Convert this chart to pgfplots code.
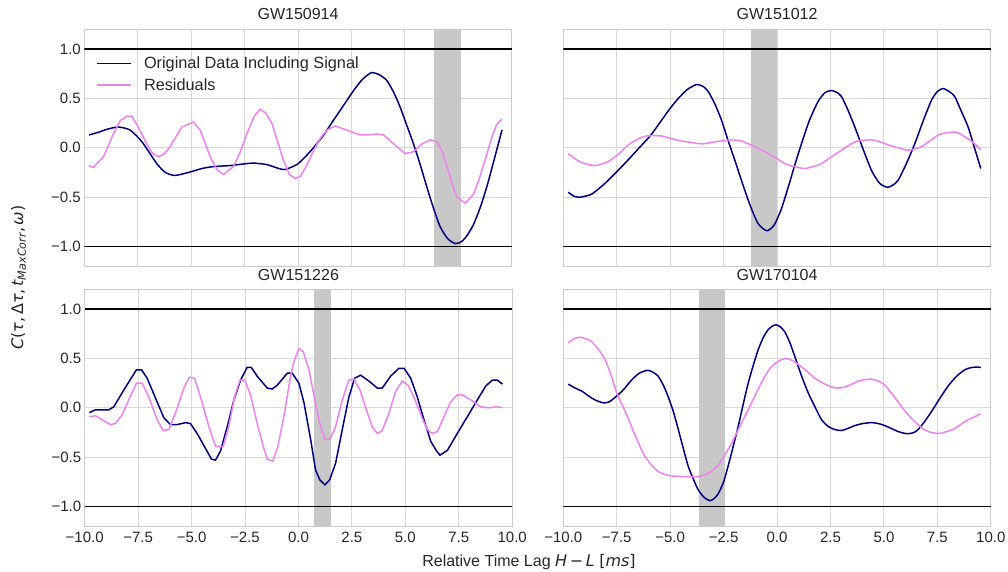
\documentclass[border=0pt]{standalone}
\usepackage{fontspec}
\setmainfont{Liberation Sans}
\newfontfamily\djv{DejaVu Sans}
\usepackage{pgfplots}
\pgfplotsset{compat=1.18}
\definecolor{navyc}{RGB}{0,0,128}
\definecolor{violetc}{RGB}{238,130,238}
\definecolor{spanc}{RGB}{200,200,200}
\definecolor{txt}{RGB}{38,38,38}
\pgfplotsset{
  panel/.style={
    scale only axis, width=427.5pt, height=237pt,
    xmin=-10, xmax=10, ymin=-1.2, ymax=1.2,
    xtick={-10,-7.5,-5,-2.5,0,2.5,5,7.5,10}, ytick={-1,-0.5,0,0.5,1},
    grid=major, grid style={draw=black!15, line width=0.9pt},
    axis line style={draw=black!20, line width=1pt},
    major tick length=0pt, tick style={draw=none},
    ticklabel style={font=\fontsize{15}{18}\selectfont, text=txt},
    title style={font=\fontsize{16}{19}\selectfont, text=txt, at={(0.5,1)}, anchor=base, yshift=3.3pt},
    xticklabel style={anchor=base, yshift=-15.8pt},
  },
  noxl/.style={xticklabels={}},
  xl/.style={xticklabels={−10.0,−7.5,−5.0,−2.5,0.0,2.5,5.0,7.5,10.0}},
  yl/.style={yticklabels={−1.0,−0.5,0.0,0.5,1.0}},
  noyl/.style={yticklabels={}},
  orig/.style={draw=navyc, line width=1.5pt},
  resid/.style={draw=violetc, line width=1.5pt},
  hl/.style={draw=black, line width=1.8pt},
  spanst/.style={fill=spanc, draw=none},
}
\begin{document}
\begin{tikzpicture}
\useasboundingbox (0pt,0pt) rectangle (1008pt,-572pt);
% ---------------- GW150914
\begin{axis}[panel, at={(84.3pt,-29.3pt)}, anchor=north west, title={GW150914}, noxl, yl,
  legend style={at={(0,1)}, anchor=north west, xshift=11.7pt, yshift=-25.4pt, draw=none, fill=none,
    inner sep=0pt, font=\fontsize{16.3}{19}\selectfont, text=txt, row sep=4.5pt, column sep=10pt},
  legend cell align=left]
\addplot[spanst, forget plot] coordinates {(6.35,-1.2) (6.35,1.2) (7.6,1.2) (7.6,-1.2)};
\addplot[hl, forget plot] coordinates {(-10,1) (10,1)};
\addplot[hl, forget plot] coordinates {(-10,-1) (10,-1)};
\addlegendimage{legend image code/.code={\draw[draw=navyc, line width=1.8pt] (0pt,0pt) -- (34pt,0pt);}}
\addlegendentry{Original Data Including Signal}
\addlegendimage{legend image code/.code={\draw[draw=violetc, line width=1.8pt] (0pt,0pt) -- (34pt,0pt);}}
\addlegendentry{Residuals}
\addplot[orig, smooth, tension=0.4, forget plot] coordinates {(-9.78,0.13) (-9.3,0.16) (-8.9,0.19) (-8.4,0.21) (-7.86,0.18) (-7.3,0.06) (-6.61,-0.16) (-6.2,-0.25) (-5.75,-0.28) (-5.05,-0.245) (-4.5,-0.21) (-3.96,-0.19) (-3.18,-0.18) (-2.6,-0.165) (-2.09,-0.155) (-1.46,-0.17) (-0.9,-0.21) (-0.6,-0.22) (-0.06,-0.17) (0.3,-0.1) (0.72,0.0) (1.2,0.13) (1.66,0.28) (2.1,0.42) (2.6,0.58) (3.0,0.69) (3.42,0.76) (3.8,0.74) (4.16,0.68) (4.5,0.55) (4.78,0.41) (5.1,0.22) (5.4,0.04) (5.7,-0.16) (6.03,-0.40) (6.35,-0.62) (6.65,-0.80) (7.0,-0.92) (7.36,-0.97) (7.65,-0.95) (7.9,-0.89) (8.2,-0.78) (8.53,-0.60) (8.85,-0.38) (9.15,-0.14) (9.54,0.18)};
\addplot[resid, forget plot] coordinates {(-9.78,-0.18) (-9.58,-0.2) (-9.1,-0.09) (-8.64,0.14) (-8.3,0.28) (-8.0,0.32) (-7.78,0.32) (-7.45,0.2) (-7.08,0.04) (-6.8,-0.06) (-6.53,-0.09) (-6.25,-0.06) (-5.99,0.01) (-5.44,0.21) (-4.9,0.26) (-4.58,0.18) (-4.35,0.05) (-4.11,-0.09) (-3.8,-0.22) (-3.49,-0.27) (-3.02,-0.19) (-2.7,-0.04) (-2.4,0.14) (-2.05,0.32) (-1.77,0.39) (-1.5,0.35) (-1.23,0.25) (-0.95,0.06) (-0.68,-0.13) (-0.4,-0.27) (-0.13,-0.31) (0.1,-0.29) (0.4,-0.18) (0.72,-0.03) (1.05,0.1) (1.35,0.18) (1.74,0.22) (2.28,0.18) (2.91,0.13) (3.3,0.13) (3.69,0.14) (4.0,0.13) (4.47,0.04) (5.02,-0.06) (5.4,-0.04) (5.8,0.04) (6.19,0.08) (6.5,0.06) (6.75,-0.04) (6.97,-0.19) (7.2,-0.36) (7.43,-0.5) (7.82,-0.56) (8.21,-0.47) (8.5,-0.3) (8.84,-0.06) (9.1,0.13) (9.3,0.24) (9.54,0.29)};
\end{axis}
% ---------------- GW151012
\begin{axis}[panel, at={(563.3pt,-29.3pt)}, anchor=north west, title={GW151012}, noxl, noyl]
\addplot[spanst, forget plot] coordinates {(-1.2,-1.2) (-1.2,1.2) (0.0,1.2) (0.0,-1.2)};
\addplot[hl, forget plot] coordinates {(-10,1) (10,1)};
\addplot[hl, forget plot] coordinates {(-10,-1) (10,-1)};
\addplot[orig, smooth, tension=0.4, forget plot] coordinates {(-9.77,-0.45) (-9.5,-0.49) (-9.22,-0.5) (-8.68,-0.47) (-8.1,-0.37) (-7.58,-0.26) (-7.0,-0.13) (-6.49,-0.01) (-5.9,0.13) (-5.4,0.28) (-5.0,0.40) (-4.62,0.5) (-4.2,0.59) (-3.77,0.64) (-3.45,0.62) (-3.22,0.57) (-2.9,0.44) (-2.6,0.28) (-2.3,0.08) (-1.97,-0.13) (-1.65,-0.34) (-1.35,-0.53) (-1.1,-0.67) (-0.88,-0.77) (-0.65,-0.82) (-0.45,-0.84) (-0.25,-0.81) (-0.1,-0.77) (0.2,-0.62) (0.52,-0.40) (0.85,-0.16) (1.14,0.04) (1.5,0.27) (1.92,0.47) (2.25,0.56) (2.55,0.58) (2.8,0.56) (3.01,0.52) (3.3,0.39) (3.64,0.21) (4.0,0.0) (4.42,-0.23) (4.8,-0.36) (5.16,-0.40) (5.4,-0.38) (5.66,-0.33) (6.05,-0.16) (6.44,0.04) (6.85,0.28) (7.22,0.48) (7.5,0.57) (7.77,0.60) (8.05,0.57) (8.31,0.52) (8.6,0.38) (8.94,0.21) (9.25,-0.01) (9.53,-0.21)};
\addplot[resid, smooth, tension=0.4, forget plot] coordinates {(-9.77,-0.06) (-9.45,-0.11) (-9.14,-0.15) (-8.52,-0.18) (-7.9,-0.14) (-7.4,-0.06) (-6.96,0.03) (-6.5,0.09) (-6.1,0.12) (-5.4,0.12) (-4.9,0.09) (-4.47,0.07) (-3.53,0.04) (-2.91,0.06) (-2.13,0.08) (-1.7,0.07) (-1.35,0.04) (-0.95,0.0) (-0.57,-0.04) (0.0,-0.11) (0.36,-0.16) (0.8,-0.19) (1.3,-0.21) (1.7,-0.19) (2.08,-0.16) (2.55,-0.09) (3.01,-0.025) (3.4,0.03) (3.79,0.07) (4.42,0.08) (4.8,0.06) (5.2,0.03) (5.66,0.0) (6.13,-0.025) (6.45,-0.01) (6.75,0.01) (7.15,0.07) (7.53,0.13) (7.9,0.15) (8.31,0.16) (8.65,0.13) (8.94,0.09) (9.25,0.04) (9.53,-0.02)};
\end{axis}
% ---------------- GW151226
\begin{axis}[panel, at={(84.7pt,-289.3pt)}, anchor=north west, title={GW151226}, xl, yl]
\addplot[spanst, forget plot] coordinates {(0.75,-1.2) (0.75,1.2) (1.5,1.2) (1.5,-1.2)};
\addplot[hl, forget plot] coordinates {(-10,1) (10,1)};
\addplot[hl, forget plot] coordinates {(-10,-1) (10,-1)};
\addplot[orig, forget plot] coordinates {(-9.78,-0.05) (-9.5,-0.02) (-8.87,-0.02) (-8.64,0.01) (-8.17,0.18) (-7.58,0.385) (-7.34,0.385) (-7.08,0.30) (-6.69,0.10) (-6.3,-0.10) (-5.99,-0.17) (-5.67,-0.17) (-5.28,-0.15) (-5.05,-0.16) (-4.74,-0.26) (-4.35,-0.41) (-4.07,-0.52) (-3.88,-0.53) (-3.65,-0.44) (-3.33,-0.19) (-3.02,0.08) (-2.71,0.28) (-2.4,0.41) (-2.21,0.41) (-1.93,0.32) (-1.46,0.20) (-1.23,0.19) (-0.99,0.23) (-0.52,0.35) (-0.29,0.35) (0.02,0.25) (0.26,0.05) (0.57,-0.32) (0.8,-0.63) (1.0,-0.73) (1.24,-0.78) (1.46,-0.73) (1.74,-0.56) (2.05,-0.22) (2.36,0.11) (2.63,0.30) (2.91,0.33) (3.3,0.27) (3.69,0.20) (3.92,0.20) (4.31,0.32) (4.7,0.40) (4.94,0.40) (5.25,0.30) (5.56,0.11) (5.87,-0.12) (6.19,-0.34) (6.47,-0.44) (6.62,-0.48) (6.97,-0.43) (7.43,-0.26) (7.9,-0.09) (8.37,0.08) (8.76,0.22) (9.07,0.28) (9.31,0.28) (9.54,0.24)};
\addplot[resid, forget plot] coordinates {(-9.78,-0.09) (-9.5,-0.08) (-9.19,-0.12) (-8.8,-0.17) (-8.56,-0.16) (-8.25,-0.07) (-7.94,0.08) (-7.58,0.25) (-7.31,0.25) (-7.0,0.11) (-6.61,-0.12) (-6.33,-0.23) (-6.06,-0.22) (-5.75,-0.05) (-5.36,0.20) (-5.1,0.31) (-4.86,0.30) (-4.58,0.11) (-4.19,-0.19) (-3.88,-0.39) (-3.52,-0.39) (-3.26,-0.19) (-2.99,0.11) (-2.74,0.28) (-2.51,0.28) (-2.24,0.13) (-1.93,-0.16) (-1.65,-0.39) (-1.46,-0.52) (-1.2,-0.54) (-0.96,-0.39) (-0.65,-0.05) (-0.37,0.32) (-0.21,0.47) (0.02,0.60) (0.22,0.57) (0.49,0.39) (0.72,0.13) (1.0,-0.16) (1.24,-0.32) (1.47,-0.32) (1.74,-0.19) (2.05,0.08) (2.36,0.28) (2.6,0.29) (2.88,0.18) (3.22,-0.05) (3.45,-0.19) (3.69,-0.26) (3.92,-0.23) (4.24,-0.05) (4.55,0.17) (4.86,0.27) (5.12,0.23) (5.4,0.11) (5.72,-0.07) (6.03,-0.22) (6.26,-0.26) (6.5,-0.24) (6.81,-0.09) (7.12,0.06) (7.43,0.13) (7.67,0.13) (8.06,0.08) (8.53,0.01) (8.92,0.0) (9.31,0.01) (9.54,0.0)};
\end{axis}
% ---------------- GW170104
\begin{axis}[panel, at={(563.3pt,-289.3pt)}, anchor=north west, title={GW170104}, xl, noyl]
\addplot[spanst, forget plot] coordinates {(-3.65,-1.2) (-3.65,1.2) (-2.45,1.2) (-2.45,-1.2)};
\addplot[hl, forget plot] coordinates {(-10,1) (10,1)};
\addplot[hl, forget plot] coordinates {(-10,-1) (10,-1)};
\addplot[orig, smooth, tension=0.4, forget plot] coordinates {(-9.77,0.24) (-9.45,0.2) (-9.14,0.17) (-8.82,0.12) (-8.52,0.08) (-8.13,0.05) (-7.85,0.06) (-7.5,0.12) (-7.2,0.18) (-6.81,0.28) (-6.45,0.35) (-6.06,0.38) (-5.8,0.36) (-5.56,0.32) (-5.3,0.22) (-5.09,0.11) (-4.85,-0.04) (-4.62,-0.22) (-4.4,-0.40) (-4.16,-0.59) (-3.9,-0.73) (-3.69,-0.83) (-3.4,-0.91) (-3.14,-0.94) (-2.95,-0.92) (-2.75,-0.87) (-2.5,-0.75) (-2.29,-0.59) (-2.05,-0.39) (-1.82,-0.19) (-1.58,0.04) (-1.35,0.25) (-1.1,0.44) (-0.88,0.59) (-0.65,0.71) (-0.42,0.79) (-0.2,0.83) (-0.03,0.84) (0.15,0.82) (0.36,0.77) (0.6,0.66) (0.83,0.52) (1.15,0.32) (1.46,0.15) (1.75,0.02) (2.08,-0.12) (2.4,-0.19) (2.7,-0.22) (3.01,-0.23) (3.3,-0.21) (3.64,-0.18) (4.0,-0.16) (4.42,-0.15) (4.75,-0.16) (5.04,-0.18) (5.35,-0.21) (5.66,-0.24) (6.0,-0.26) (6.21,-0.26) (6.4,-0.25) (6.6,-0.22) (6.9,-0.14) (7.22,-0.04) (7.6,0.09) (8.0,0.22) (8.4,0.32) (8.78,0.385) (9.15,0.41) (9.53,0.41)};
\addplot[resid, smooth, tension=0.4, forget plot] coordinates {(-9.77,0.655) (-9.5,0.70) (-9.22,0.715) (-8.95,0.70) (-8.68,0.67) (-8.35,0.59) (-8.05,0.49) (-7.75,0.32) (-7.5,0.15) (-7.1,-0.04) (-6.81,-0.19) (-6.5,-0.35) (-6.18,-0.49) (-5.87,-0.58) (-5.56,-0.645) (-5.25,-0.675) (-4.93,-0.69) (-4.5,-0.695) (-4.0,-0.70) (-3.7,-0.695) (-3.38,-0.68) (-3.05,-0.64) (-2.75,-0.58) (-2.45,-0.48) (-2.13,-0.36) (-1.75,-0.19) (-1.35,-0.02) (-0.95,0.16) (-0.57,0.32) (-0.25,0.42) (0.05,0.47) (0.25,0.49) (0.44,0.50) (0.7,0.48) (0.99,0.44) (1.4,0.37) (1.77,0.30) (2.15,0.25) (2.55,0.21) (2.85,0.20) (3.17,0.21) (3.5,0.24) (3.79,0.27) (4.1,0.285) (4.42,0.29) (4.75,0.27) (5.04,0.23) (5.35,0.15) (5.66,0.06) (6.05,-0.05) (6.44,-0.14) (6.75,-0.20) (7.07,-0.24) (7.35,-0.255) (7.61,-0.26) (7.95,-0.24) (8.31,-0.21) (8.65,-0.16) (8.94,-0.12) (9.25,-0.09) (9.53,-0.06)};
\end{axis}
% ---------------- shared labels
\node[anchor=base, rotate=90, text=txt, font=\fontsize{16}{19}\selectfont] at (23pt,-277.5pt)
  {{\djv\itshape C}{\djv(}{\djv\itshape τ}{\djv,\,Δ}{\djv\itshape τ}{\djv,\,}{\djv\itshape t}\raisebox{-0.35ex}{\fontsize{11.2}{12}\djv\itshape MaxCorr}{\djv,\,}{\djv\itshape ω}{\djv)}};
\node[anchor=base, text=txt, font=\fontsize{16}{19}\selectfont] at (529pt,-566.5pt)
  {Relative Time Lag {\djv\itshape H}\,{\djv −}\,{\djv\itshape L} {\djv [}{\djv\itshape ms}{\djv ]}};
\end{tikzpicture}
\end{document}
